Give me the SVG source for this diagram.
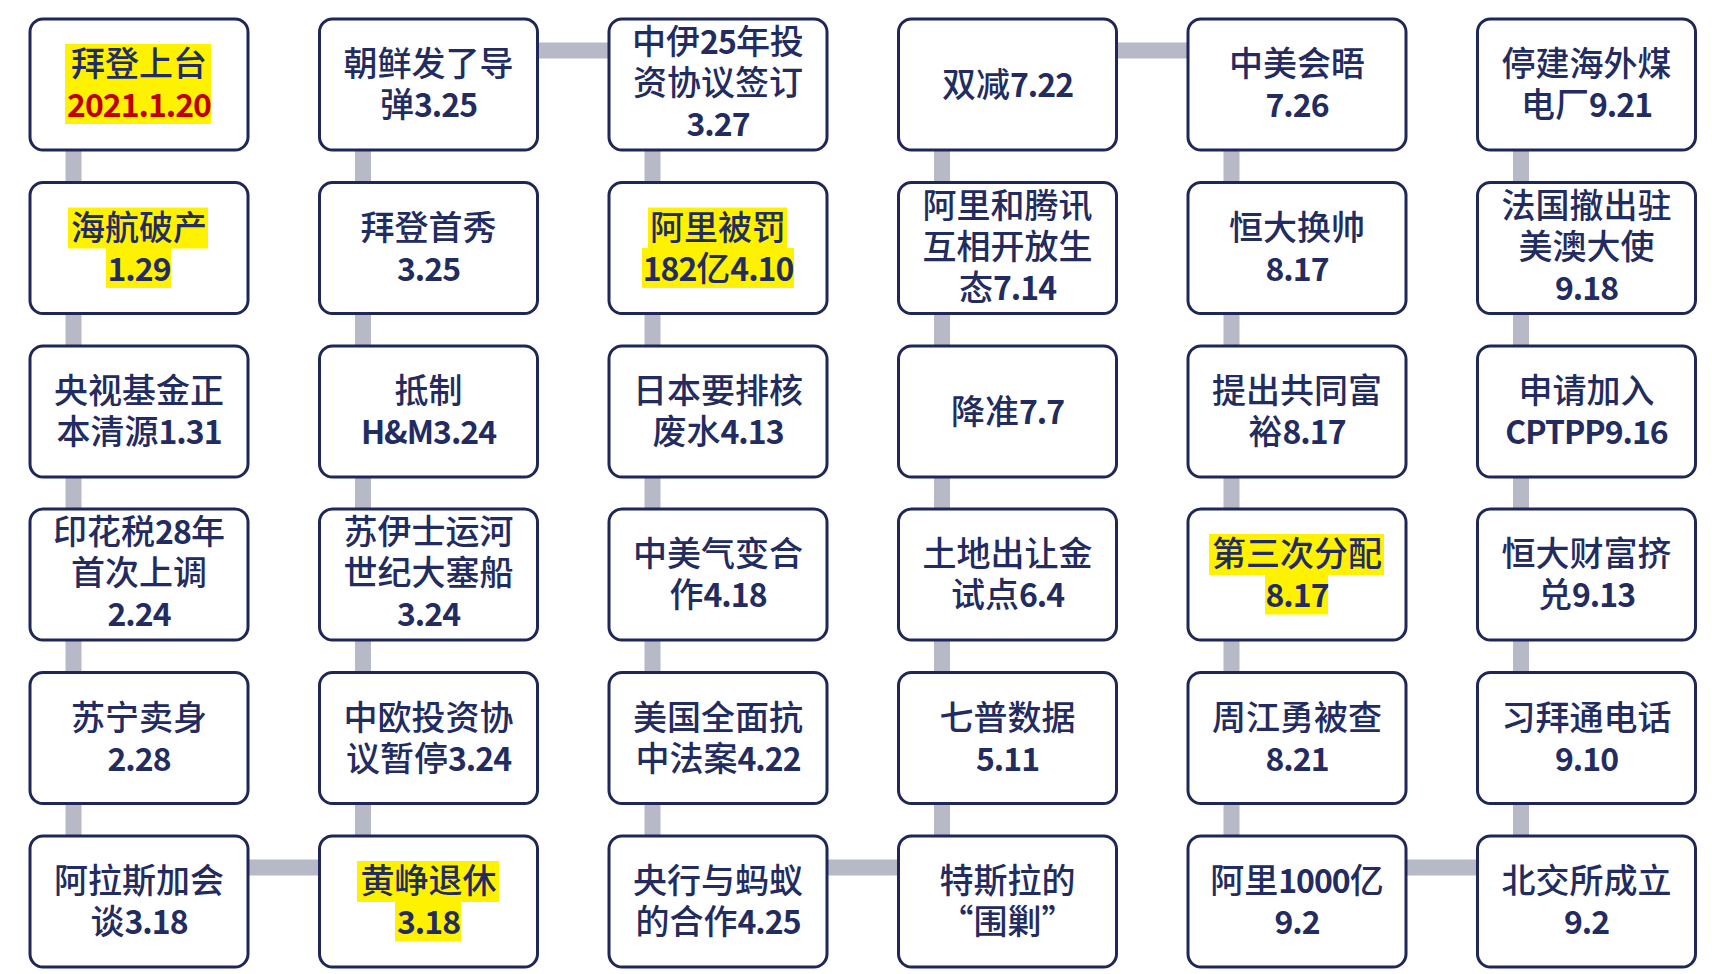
<svg xmlns="http://www.w3.org/2000/svg" width="1712" height="974" viewBox="0 0 1712 974">
<style>
.box{fill:#ffffff;stroke:#1f2658;stroke-width:3}
.hl{fill:#fff200}
text{font-family:"Noto Sans CJK SC","Noto Sans",sans-serif;font-size:34px;font-weight:500;fill:#232c60;text-anchor:middle}
.d{font-weight:700;font-size:32px;letter-spacing:-1px}
.red{fill:#c00000}
.conn{fill:none;stroke:#b8b9c7;stroke-width:16;stroke-linejoin:miter}
</style>
<rect x="0" y="0" width="1712" height="974" fill="#ffffff"/>
<g id="connectors">
<polyline class="conn" points="73.5,84 73.5,867.5 363,867.5 363,50.5 652.5,50.5 652.5,867.5 942,867.5 942,50.5 1231.5,50.5 1231.5,867.5 1521,867.5 1521,84"/>
</g>
<!-- column 1 -->
<g id="n-c1r1"><rect class="box" x="30" y="19" width="218" height="131" rx="13"/><rect class="hl" x="65" y="44" width="146" height="80"/><text x="139" y="76">拜登上台</text><text x="139" y="117" class="d red">2021.1.20</text></g>
<g id="n-c1r2"><rect class="box" x="30" y="182.5" width="218" height="131" rx="13"/><rect class="hl" x="68" y="207.5" width="140" height="41"/><rect class="hl" x="106" y="248" width="65" height="40"/><text x="139" y="239.5">海航破产</text><text x="139" y="280.5" class="d">1.29</text></g>
<g id="n-c1r3"><rect class="box" x="30" y="346" width="218" height="131" rx="13"/><text x="139" y="403">央视基金正</text><text x="139" y="444">本清源<tspan class="d">1.31</tspan></text></g>
<g id="n-c1r4"><rect class="box" x="30" y="509" width="218" height="131" rx="13"/><text x="139" y="544">印花税<tspan class="d">28</tspan>年</text><text x="139" y="585">首次上调</text><text x="139" y="626" class="d">2.24</text></g>
<g id="n-c1r5"><rect class="box" x="30" y="672.5" width="218" height="131" rx="13"/><text x="139" y="729.5">苏宁卖身</text><text x="139" y="770.5" class="d">2.28</text></g>
<g id="n-c1r6"><rect class="box" x="30" y="836" width="218" height="131" rx="13"/><text x="139" y="893">阿拉斯加会</text><text x="139" y="934">谈<tspan class="d">3.18</tspan></text></g>
<!-- column 2 -->
<g id="n-c2r1"><rect class="box" x="319.5" y="19" width="218" height="131" rx="13"/><text x="428.5" y="76">朝鲜发了导</text><text x="428.5" y="117">弹<tspan class="d">3.25</tspan></text></g>
<g id="n-c2r2"><rect class="box" x="319.5" y="182.5" width="218" height="131" rx="13"/><text x="428.5" y="239.5">拜登首秀</text><text x="428.5" y="280.5" class="d">3.25</text></g>
<g id="n-c2r3"><rect class="box" x="319.5" y="346" width="218" height="131" rx="13"/><text x="428.5" y="403">抵制</text><text x="428.5" y="444" class="d">H&amp;M3.24</text></g>
<g id="n-c2r4"><rect class="box" x="319.5" y="509" width="218" height="131" rx="13"/><text x="428.5" y="544">苏伊士运河</text><text x="428.5" y="585">世纪大塞船</text><text x="428.5" y="626" class="d">3.24</text></g>
<g id="n-c2r5"><rect class="box" x="319.5" y="672.5" width="218" height="131" rx="13"/><text x="428.5" y="729.5">中欧投资协</text><text x="428.5" y="770.5">议暂停<tspan class="d">3.24</tspan></text></g>
<g id="n-c2r6"><rect class="box" x="319.5" y="836" width="218" height="131" rx="13"/><rect class="hl" x="357" y="861" width="142" height="41"/><rect class="hl" x="395" y="901.5" width="66" height="40"/><text x="428.5" y="893">黄峥退休</text><text x="428.5" y="934" class="d">3.18</text></g>
<!-- column 3 -->
<g id="n-c3r1"><rect class="box" x="609" y="19" width="218" height="131" rx="13"/><text x="718" y="54">中伊<tspan class="d">25</tspan>年投</text><text x="718" y="95">资协议签订</text><text x="718" y="136" class="d">3.27</text></g>
<g id="n-c3r2"><rect class="box" x="609" y="182.5" width="218" height="131" rx="13"/><rect class="hl" x="648" y="207.5" width="139" height="41"/><rect class="hl" x="642" y="248" width="152" height="40"/><text x="718" y="239.5">阿里被罚</text><text x="718" y="280.5"><tspan class="d">182</tspan>亿<tspan class="d">4.10</tspan></text></g>
<g id="n-c3r3"><rect class="box" x="609" y="346" width="218" height="131" rx="13"/><text x="718" y="403">日本要排核</text><text x="718" y="444">废水<tspan class="d">4.13</tspan></text></g>
<g id="n-c3r4"><rect class="box" x="609" y="509" width="218" height="131" rx="13"/><text x="718" y="566">中美气变合</text><text x="718" y="607">作<tspan class="d">4.18</tspan></text></g>
<g id="n-c3r5"><rect class="box" x="609" y="672.5" width="218" height="131" rx="13"/><text x="718" y="729.5">美国全面抗</text><text x="718" y="770.5">中法案<tspan class="d">4.22</tspan></text></g>
<g id="n-c3r6"><rect class="box" x="609" y="836" width="218" height="131" rx="13"/><text x="718" y="893">央行与蚂蚁</text><text x="718" y="934">的合作<tspan class="d">4.25</tspan></text></g>
<!-- column 4 -->
<g id="n-c4r1"><rect class="box" x="898.5" y="19" width="218" height="131" rx="13"/><text x="1007.5" y="96.5">双减<tspan class="d">7.22</tspan></text></g>
<g id="n-c4r2"><rect class="box" x="898.5" y="182.5" width="218" height="131" rx="13"/><text x="1007.5" y="217.5">阿里和腾讯</text><text x="1007.5" y="258.5">互相开放生</text><text x="1007.5" y="299.5">态<tspan class="d">7.14</tspan></text></g>
<g id="n-c4r3"><rect class="box" x="898.5" y="346" width="218" height="131" rx="13"/><text x="1007.5" y="423.5">降准<tspan class="d">7.7</tspan></text></g>
<g id="n-c4r4"><rect class="box" x="898.5" y="509" width="218" height="131" rx="13"/><text x="1007.5" y="566">土地出让金</text><text x="1007.5" y="607">试点<tspan class="d">6.4</tspan></text></g>
<g id="n-c4r5"><rect class="box" x="898.5" y="672.5" width="218" height="131" rx="13"/><text x="1007.5" y="729.5">七普数据</text><text x="1007.5" y="770.5" class="d">5.11</text></g>
<g id="n-c4r6"><rect class="box" x="898.5" y="836" width="218" height="131" rx="13"/><text x="1007.5" y="893">特斯拉的</text><text x="1007.5" y="934">“围剿”</text></g>
<!-- column 5 -->
<g id="n-c5r1"><rect class="box" x="1188" y="19" width="218" height="131" rx="13"/><text x="1297" y="76">中美会晤</text><text x="1297" y="117" class="d">7.26</text></g>
<g id="n-c5r2"><rect class="box" x="1188" y="182.5" width="218" height="131" rx="13"/><text x="1297" y="239.5">恒大换帅</text><text x="1297" y="280.5" class="d">8.17</text></g>
<g id="n-c5r3"><rect class="box" x="1188" y="346" width="218" height="131" rx="13"/><text x="1297" y="403">提出共同富</text><text x="1297" y="444">裕<tspan class="d">8.17</tspan></text></g>
<g id="n-c5r4"><rect class="box" x="1188" y="509" width="218" height="131" rx="13"/><rect class="hl" x="1209" y="534" width="175" height="41"/><rect class="hl" x="1265" y="574.5" width="63" height="40"/><text x="1297" y="566">第三次分配</text><text x="1297" y="607" class="d">8.17</text></g>
<g id="n-c5r5"><rect class="box" x="1188" y="672.5" width="218" height="131" rx="13"/><text x="1297" y="729.5">周江勇被查</text><text x="1297" y="770.5" class="d">8.21</text></g>
<g id="n-c5r6"><rect class="box" x="1188" y="836" width="218" height="131" rx="13"/><text x="1297" y="893">阿里<tspan class="d">1000</tspan>亿</text><text x="1297" y="934" class="d">9.2</text></g>
<!-- column 6 -->
<g id="n-c6r1"><rect class="box" x="1477.5" y="19" width="218" height="131" rx="13"/><text x="1586.5" y="76">停建海外煤</text><text x="1586.5" y="117">电厂<tspan class="d">9.21</tspan></text></g>
<g id="n-c6r2"><rect class="box" x="1477.5" y="182.5" width="218" height="131" rx="13"/><text x="1586.5" y="217.5">法国撤出驻</text><text x="1586.5" y="258.5">美澳大使</text><text x="1586.5" y="299.5" class="d">9.18</text></g>
<g id="n-c6r3"><rect class="box" x="1477.5" y="346" width="218" height="131" rx="13"/><text x="1586.5" y="403">申请加入</text><text x="1586.5" y="444" class="d">CPTPP9.16</text></g>
<g id="n-c6r4"><rect class="box" x="1477.5" y="509" width="218" height="131" rx="13"/><text x="1586.5" y="566">恒大财富挤</text><text x="1586.5" y="607">兑<tspan class="d">9.13</tspan></text></g>
<g id="n-c6r5"><rect class="box" x="1477.5" y="672.5" width="218" height="131" rx="13"/><text x="1586.5" y="729.5">习拜通电话</text><text x="1586.5" y="770.5" class="d">9.10</text></g>
<g id="n-c6r6"><rect class="box" x="1477.5" y="836" width="218" height="131" rx="13"/><text x="1586.5" y="893">北交所成立</text><text x="1586.5" y="934" class="d">9.2</text></g>
</svg>
